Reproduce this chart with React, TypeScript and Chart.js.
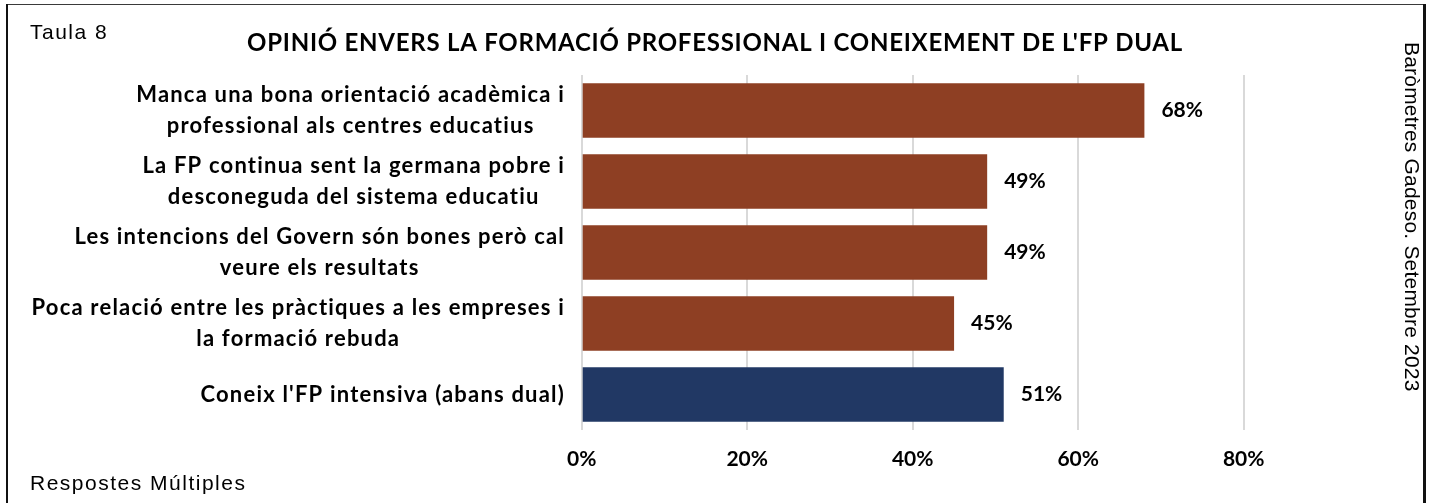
import React, { useEffect, useRef } from "react";
import { Chart, registerables } from "chart.js";

Chart.register(...registerables);

const categories: string[][] = [
  ["Manca una bona orientació acadèmica i", "professional als centres educatius"],
  ["La FP continua sent la germana pobre i", "desconeguda del sistema educatiu"],
  ["Les intencions del Govern són bones però cal", "veure els resultats"],
  ["Poca relació entre les pràctiques a les empreses i", "la formació rebuda"],
  ["Coneix l'FP intensiva (abans dual)"],
];
const values: number[] = [68, 49, 49, 45, 51];
const barColors: string[] = ["#8E3F23", "#8E3F23", "#8E3F23", "#8E3F23", "#213864"];
const xMin = 0;
const xMax = 80;
const xStep = 20;
const title = "OPINIÓ ENVERS LA FORMACIÓ PROFESSIONAL I CONEIXEMENT DE L'FP DUAL";
const tableLabel = "Taula 8";
const footnote = "Respostes Múltiples";
const source = "Baròmetres Gadeso. Setembre 2023";

const CAL = "Lato, 'Open Sans', sans-serif";
const ARIAL = "'Liberation Sans', Arial, sans-serif";

const decorPlugin = {
  id: "decor",
  beforeDraw(chart: any) {
    const ctx = chart.ctx;
    ctx.save();
    ctx.fillStyle = "#ffffff";
    ctx.fillRect(0, 0, chart.width, chart.height);
    ctx.restore();
  },
  afterDraw(chart: any) {
    const ctx = chart.ctx;
    const yScale = chart.scales.y;
    ctx.save();

    // frame
    ctx.fillStyle = "#3a3a3a";
    ctx.fillRect(6, 4, 1419, 1);
    ctx.fillStyle = "#111111";
    ctx.fillRect(6, 4, 2, chart.height - 4);
    ctx.fillRect(1423, 4, 3, chart.height - 4);

    // title
    ctx.fillStyle = "#000000";
    ctx.font = `bold 24px ${CAL}`;
    ctx.textAlign = "center";
    ctx.textBaseline = "middle";
    (ctx as any).letterSpacing = "0.75px";
    ctx.fillText(title, 715, 43);

    // table label & footnote
    ctx.font = `21px ${ARIAL}`;
    (ctx as any).letterSpacing = "1.5px";
    ctx.textAlign = "left";
    ctx.textBaseline = "alphabetic";
    ctx.fillText(tableLabel, 30, 39);
    ctx.fillText(footnote, 30, 490);

    // rotated source
    ctx.save();
    ctx.translate(1405, 42);
    ctx.rotate(Math.PI / 2);
    ctx.font = `21px ${ARIAL}`;
    (ctx as any).letterSpacing = "0.2px";
    ctx.fillText(source, 0, 0);
    ctx.restore();

    // category labels
    ctx.font = `bold 22px ${CAL}`;
    (ctx as any).letterSpacing = "1.2px";
    ctx.textAlign = "center";
    ctx.textBaseline = "middle";
    const labelRight = 565;
    categories.forEach((lines, i) => {
      const cy = yScale.getPixelForValue(i);
      const bw = Math.max(...lines.map((l) => ctx.measureText(l).width));
      const cx = labelRight - bw / 2;
      lines.forEach((l, j) => {
        ctx.fillText(l, cx, cy + (j - (lines.length - 1) / 2) * 31);
      });
    });

    // data labels
    (ctx as any).letterSpacing = "0px";
    ctx.font = `bold 21px ${CAL}`;
    ctx.textAlign = "left";
    const meta = chart.getDatasetMeta(0);
    meta.data.forEach((bar: any, i: number) => {
      ctx.fillText(values[i] + "%", bar.x + 17, bar.y);
    });

    ctx.restore();
  },
};

export default function App() {
  const ref = useRef<HTMLCanvasElement | null>(null);
  useEffect(() => {
    if (!ref.current) return;
    const chart = new Chart(ref.current, {
      type: "bar",
      data: {
        labels: categories,
        datasets: [
          {
            data: values,
            backgroundColor: barColors,
            borderWidth: 0,
            barPercentage: 0.767,
            categoryPercentage: 1,
          },
        ],
      },
      options: {
        indexAxis: "y",
        responsive: false,
        animation: false,
        devicePixelRatio: 1,
        layout: { padding: { left: 581.7, right: 188.3, top: 75, bottom: 14.8 } },
        plugins: {
          legend: { display: false },
          title: { display: false },
          tooltip: { enabled: false },
        },
        scales: {
          x: {
            min: xMin,
            max: xMax,
            ticks: {
              stepSize: xStep,
              color: "#000000",
              font: { family: CAL, weight: "bold", size: 21 },
              padding: 16.5,
              callback: (v: any) => v + "%",
            },
            grid: { color: "#D9D9D9", lineWidth: 2, drawTicks: false },
            border: { display: false },
          },
          y: {
            display: false,
          },
        },
      },
      plugins: [decorPlugin],
    } as any);
    return () => chart.destroy();
  }, []);
  return (
    <div style={{ position: "absolute", left: 0, top: 0, width: 1432, height: 503, background: "#fff" }}>
      <canvas ref={ref} width={1432} height={503} style={{ display: "block" }} />
    </div>
  );
}
